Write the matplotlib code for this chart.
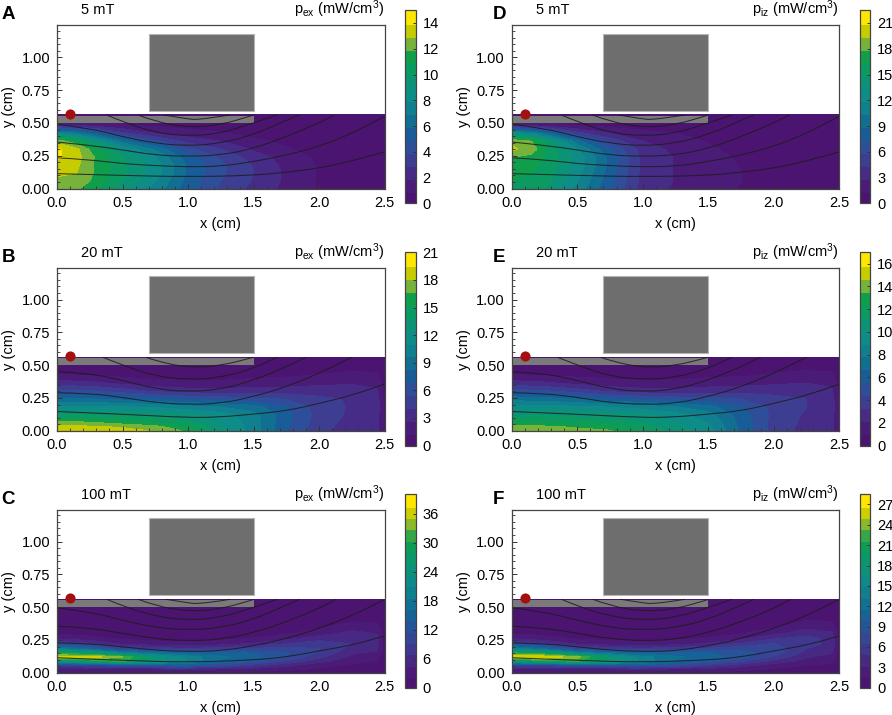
import matplotlib
matplotlib.use("Agg")
import matplotlib.pyplot as plt
from matplotlib.colors import LinearSegmentedColormap
from matplotlib.patches import PathPatch, Rectangle
from matplotlib.path import Path
import numpy as np

plt.rcParams["font.family"] = ["Liberation Sans", "DejaVu Sans"]
plt.rcParams["mathtext.default"] = "regular"
plt.rcParams["axes.edgecolor"] = "#444444"

# ---- density grids, rows run bottom to top ----
x_low = [0, 0.15, 0.3, 0.5, 0.75, 1.0, 1.25, 1.5, 1.75, 2.0, 2.25, 2.5]
y_low = [0, 0.06, 0.12, 0.18, 0.24, 0.30, 0.36, 0.42, 0.48, 0.56]
x_high = [0, 0.25, 0.5, 0.75, 1.0, 1.25, 1.5, 1.75, 2.0, 2.25, 2.44, 2.5]
y_mid = [0, 0.03, 0.06, 0.12, 0.18, 0.24, 0.30, 0.36, 0.42, 0.48, 0.56]
y_high = [0, 0.03, 0.06, 0.09, 0.12, 0.15, 0.18, 0.22, 0.26, 0.30, 0.36, 0.44, 0.56]

pex_5 = [
    [12.0, 12.2, 11.0, 9.5, 7.6, 5.4, 3.8, 2.7, 1.7, 0.9, 0.5, 0.3],
    [12.8, 12.8, 11.6, 10.0, 8.0, 5.6, 4.0, 2.9, 1.8, 0.9, 0.5, 0.3],
    [13.2, 13.0, 11.8, 10.2, 8.5, 5.8, 4.2, 3.0, 1.8, 0.9, 0.5, 0.3],
    [13.6, 13.2, 11.8, 10.2, 8.5, 5.8, 4.2, 2.9, 1.7, 0.9, 0.5, 0.3],
    [14.2, 13.4, 11.8, 10.0, 8.0, 5.4, 3.8, 2.5, 1.5, 0.8, 0.4, 0.3],
    [14.2, 13.2, 11.2, 8.8, 6.8, 4.2, 3.0, 1.8, 1.1, 0.6, 0.4, 0.2],
    [12.6, 11.2, 9.0, 6.4, 4.2, 2.6, 2.0, 1.2, 0.8, 0.4, 0.3, 0.2],
    [8.0, 7.0, 5.2, 3.2, 2.0, 1.4, 1.1, 0.7, 0.5, 0.3, 0.2, 0.2],
    [2.2, 1.9, 1.5, 1.1, 0.8, 0.6, 0.5, 0.4, 0.3, 0.2, 0.2, 0.2],
    [0.4, 0.4, 0.4, 0.3, 0.3, 0.3, 0.3, 0.2, 0.2, 0.2, 0.2, 0.2],
]
piz_5 = [
    [16.0, 16.0, 14.5, 11.5, 7.5, 3.8, 2.8, 2.2, 1.4, 0.8, 0.5, 0.4],
    [16.5, 16.2, 15.0, 12.0, 8.0, 4.0, 2.9, 2.3, 1.5, 0.8, 0.5, 0.4],
    [16.8, 16.5, 15.2, 12.5, 8.2, 4.0, 2.9, 2.3, 1.5, 0.8, 0.5, 0.4],
    [17.2, 17.0, 15.5, 13.0, 8.5, 4.0, 2.9, 2.2, 1.4, 0.8, 0.5, 0.4],
    [18.0, 17.5, 15.8, 13.0, 8.5, 4.0, 2.9, 2.0, 1.3, 0.7, 0.5, 0.4],
    [19.8, 18.8, 15.8, 12.0, 7.5, 3.8, 2.6, 1.7, 1.1, 0.6, 0.4, 0.3],
    [19.2, 18.0, 14.5, 9.5, 5.5, 3.0, 2.2, 1.4, 0.9, 0.5, 0.4, 0.3],
    [13.0, 11.5, 8.5, 5.0, 3.0, 1.9, 1.5, 1.0, 0.7, 0.4, 0.3, 0.3],
    [3.0, 2.6, 2.0, 1.4, 1.0, 0.8, 0.7, 0.5, 0.4, 0.3, 0.3, 0.3],
    [0.5, 0.5, 0.5, 0.5, 0.4, 0.4, 0.4, 0.3, 0.3, 0.3, 0.3, 0.3],
]
pex_20 = [
    [19.5, 19.2, 18.8, 18.0, 16.5, 13.0, 10.5, 7.0, 4.5, 3.5, 3.2, 0.9],
    [18.6, 18.4, 18.0, 17.2, 15.5, 12.8, 10.5, 7.2, 4.7, 3.6, 3.3, 0.9],
    [17.5, 17.0, 16.2, 15.5, 14.4, 12.5, 10.5, 7.3, 4.8, 3.7, 3.4, 0.9],
    [14.0, 14.0, 13.8, 13.5, 13.0, 11.8, 10.3, 7.5, 5.0, 3.9, 3.5, 0.9],
    [11.5, 11.5, 11.3, 11.0, 10.3, 9.8, 9.0, 7.0, 5.0, 4.0, 3.6, 0.9],
    [8.5, 8.5, 8.0, 7.5, 6.8, 6.5, 6.0, 5.5, 4.6, 4.0, 3.5, 0.9],
    [6.0, 5.8, 5.0, 4.0, 3.5, 3.4, 3.5, 3.5, 3.5, 3.5, 3.0, 0.9],
    [3.5, 3.2, 2.5, 1.9, 1.7, 1.7, 2.0, 2.2, 2.5, 2.7, 2.4, 0.8],
    [1.5, 1.4, 1.1, 0.9, 0.9, 0.9, 1.0, 1.2, 1.5, 1.8, 1.7, 0.7],
    [0.8, 0.7, 0.6, 0.6, 0.6, 0.6, 0.6, 0.7, 0.8, 1.0, 0.9, 0.6],
    [0.5, 0.5, 0.5, 0.5, 0.5, 0.5, 0.5, 0.5, 0.5, 0.5, 0.5, 0.5],
]
piz_20 = [
    [14.5, 14.2, 14.0, 13.7, 12.4, 10.8, 9.5, 6.5, 4.0, 3.0, 2.6, 0.8],
    [14.0, 13.8, 13.4, 12.8, 11.8, 10.6, 9.3, 6.5, 4.1, 3.0, 2.7, 0.8],
    [12.8, 12.6, 12.2, 12.0, 11.3, 10.2, 9.0, 6.4, 4.1, 3.1, 2.8, 0.8],
    [11.0, 11.2, 11.0, 10.8, 10.4, 9.5, 8.4, 6.2, 4.2, 3.2, 2.9, 0.8],
    [9.5, 9.5, 9.3, 9.0, 8.5, 8.0, 7.2, 5.6, 4.2, 3.4, 3.0, 0.8],
    [7.5, 7.3, 6.8, 6.0, 5.5, 5.2, 5.0, 4.5, 3.8, 3.4, 2.9, 0.8],
    [5.0, 4.7, 4.0, 3.2, 2.8, 2.7, 2.9, 3.0, 3.0, 3.0, 2.5, 0.8],
    [2.8, 2.5, 2.0, 1.6, 1.4, 1.4, 1.7, 1.9, 2.1, 2.3, 2.0, 0.7],
    [1.2, 1.1, 0.9, 0.8, 0.7, 0.8, 0.9, 1.0, 1.3, 1.5, 1.4, 0.6],
    [0.6, 0.6, 0.5, 0.5, 0.5, 0.5, 0.5, 0.6, 0.7, 0.9, 0.8, 0.5],
    [0.4, 0.4, 0.4, 0.4, 0.4, 0.4, 0.4, 0.4, 0.4, 0.4, 0.4, 0.4],
]
pex_100 = [
    [2.0, 2.0, 2.0, 2.0, 2.0, 1.8, 1.5, 1.2, 1.0, 0.8, 0.7, 0.6],
    [4.0, 4.0, 4.2, 4.5, 5.0, 4.5, 4.0, 3.0, 2.0, 1.5, 1.2, 0.7],
    [9.0, 10.0, 12.0, 13.5, 14.0, 11.0, 8.0, 5.5, 3.0, 2.0, 1.6, 0.8],
    [24.0, 28.0, 31.0, 25.0, 21.0, 16.0, 13.0, 9.0, 5.5, 3.0, 2.2, 0.9],
    [36.0, 36.5, 33.0, 25.0, 20.0, 17.0, 15.0, 11.5, 7.5, 4.0, 3.0, 1.0],
    [30.0, 27.0, 20.0, 17.0, 15.0, 14.5, 14.0, 12.0, 9.0, 5.0, 4.0, 1.1],
    [20.0, 16.0, 10.0, 8.5, 7.5, 8.5, 10.0, 10.5, 9.5, 6.0, 5.0, 1.2],
    [10.0, 7.5, 4.0, 3.2, 3.0, 3.5, 5.0, 7.0, 8.5, 7.0, 5.5, 1.2],
    [4.0, 3.0, 2.0, 1.6, 1.5, 1.8, 2.5, 4.0, 6.0, 7.0, 5.5, 1.2],
    [2.0, 1.6, 1.0, 0.9, 0.9, 1.0, 1.2, 2.0, 3.5, 5.5, 4.5, 1.1],
    [1.0, 0.9, 0.7, 0.6, 0.6, 0.6, 0.7, 1.0, 1.5, 3.0, 2.8, 0.9],
    [0.6, 0.6, 0.5, 0.5, 0.5, 0.5, 0.5, 0.6, 0.7, 1.0, 1.0, 0.7],
    [0.5, 0.5, 0.5, 0.5, 0.5, 0.5, 0.5, 0.5, 0.5, 0.5, 0.5, 0.5],
]
piz_100 = [
    [1.4, 1.4, 1.4, 1.4, 1.4, 1.3, 1.1, 0.9, 0.8, 0.6, 0.5, 0.5],
    [3.0, 3.0, 3.0, 3.2, 3.5, 3.2, 2.8, 2.2, 1.5, 1.2, 1.0, 0.5],
    [7.0, 7.5, 8.5, 9.5, 9.5, 8.0, 6.0, 4.2, 2.5, 1.7, 1.4, 0.6],
    [18.0, 20.5, 22.0, 18.5, 14.5, 11.5, 9.5, 7.0, 4.5, 2.6, 2.0, 0.7],
    [26.5, 26.5, 24.0, 18.0, 14.0, 12.0, 11.0, 9.0, 6.2, 3.5, 2.6, 0.8],
    [22.0, 20.0, 14.5, 12.0, 10.5, 10.5, 10.2, 9.2, 7.5, 4.3, 3.4, 0.9],
    [15.0, 12.0, 7.5, 6.0, 5.5, 6.0, 7.2, 8.0, 7.8, 5.0, 4.2, 0.9],
    [7.5, 5.5, 3.0, 2.4, 2.2, 2.6, 3.6, 5.2, 6.8, 5.6, 4.6, 0.9],
    [3.0, 2.2, 1.5, 1.2, 1.1, 1.3, 1.8, 3.0, 4.8, 5.6, 4.6, 0.9],
    [1.5, 1.2, 0.8, 0.7, 0.7, 0.7, 0.9, 1.5, 2.8, 4.4, 3.6, 0.8],
    [0.7, 0.6, 0.5, 0.5, 0.5, 0.5, 0.5, 0.7, 1.2, 2.4, 2.2, 0.7],
    [0.4, 0.4, 0.4, 0.4, 0.4, 0.4, 0.4, 0.5, 0.5, 0.8, 0.8, 0.5],
    [0.3, 0.3, 0.3, 0.3, 0.3, 0.3, 0.3, 0.3, 0.3, 0.3, 0.3, 0.3],
]

# ---- magnetic field lines, read per field (x, y) ----
lines_5 = [
    ([0, 0.5, 1.0, 1.5, 1.75, 2.0, 2.25, 2.5], [0.114, 0.10, 0.09, 0.10, 0.125, 0.155, 0.21, 0.28]),
    ([0, 0.25, 0.5, 0.75, 1.0, 1.25, 1.5, 1.75, 2.0, 2.25, 2.5], [0.235, 0.22, 0.19, 0.175, 0.165, 0.17, 0.205, 0.255, 0.32, 0.42, 0.55]),
    ([0, 0.25, 0.5, 0.75, 1.0, 1.25, 1.5, 1.75, 2.0, 2.12], [0.355, 0.33, 0.295, 0.255, 0.245, 0.255, 0.305, 0.395, 0.50, 0.56]),
    ([0, 0.25, 0.5, 0.75, 1.0, 1.25, 1.5, 1.75, 1.85], [0.49, 0.46, 0.395, 0.345, 0.325, 0.345, 0.41, 0.52, 0.56]),
    ([0.38, 0.5, 0.75, 1.0, 1.25, 1.5, 1.68], [0.56, 0.51, 0.425, 0.40, 0.42, 0.50, 0.56]),
    ([0.62, 0.75, 1.0, 1.25, 1.5], [0.56, 0.51, 0.465, 0.485, 0.56]),
    ([0.82, 1.0, 1.07, 1.25, 1.32], [0.56, 0.53, 0.525, 0.55, 0.56]),
]
lines_20 = [
    ([0, 0.5, 1.0, 1.25, 1.5, 1.75, 2.0, 2.25, 2.5], [0.147, 0.127, 0.10, 0.105, 0.127, 0.152, 0.208, 0.27, 0.355]),
    ([0, 0.25, 0.5, 0.75, 1.0, 1.25, 1.5, 1.75, 2.0, 2.25], [0.29, 0.285, 0.255, 0.215, 0.20, 0.208, 0.26, 0.335, 0.437, 0.56]),
    ([0, 0.25, 0.5, 0.75, 1.0, 1.25, 1.5, 1.75, 1.9], [0.45, 0.437, 0.385, 0.32, 0.297, 0.315, 0.385, 0.487, 0.56]),
    ([0.35, 0.5, 0.75, 1.0, 1.25, 1.5, 1.68], [0.56, 0.50, 0.415, 0.39, 0.405, 0.475, 0.56]),
    ([0.68, 0.75, 1.0, 1.25, 1.5], [0.56, 0.533, 0.48, 0.495, 0.56]),
]
lines_100 = [
    ([0, 0.5, 1.0, 1.5, 1.75, 2.0, 2.25, 2.5], [0.115, 0.094, 0.08, 0.097, 0.12, 0.167, 0.21, 0.28]),
    ([0, 0.25, 0.5, 0.75, 1.0, 1.25, 1.5, 1.75, 2.0, 2.25, 2.5], [0.228, 0.223, 0.198, 0.172, 0.162, 0.167, 0.205, 0.26, 0.337, 0.434, 0.558]),
    ([0, 0.25, 0.5, 0.75, 1.0, 1.25, 1.5, 1.75, 2.0, 2.13], [0.355, 0.343, 0.30, 0.26, 0.243, 0.254, 0.305, 0.388, 0.49, 0.56]),
    ([0, 0.25, 0.5, 0.75, 1.0, 1.25, 1.5, 1.75, 1.85], [0.495, 0.465, 0.40, 0.345, 0.325, 0.343, 0.406, 0.515, 0.56]),
    ([0.38, 0.5, 0.75, 1.0, 1.25, 1.5, 1.68], [0.56, 0.508, 0.43, 0.40, 0.42, 0.497, 0.56]),
    ([0.62, 0.75, 1.0, 1.25, 1.5], [0.56, 0.51, 0.467, 0.485, 0.558]),
    ([0.83, 1.0, 1.07, 1.25, 1.32], [0.56, 0.533, 0.525, 0.548, 0.56]),
]

# colours, bottom to top
bar_colors = ["#4b1470", "#4a1c78", "#462c86", "#3d3e92", "#2f4e99", "#195d98", "#116f92", "#10808f",
              "#0e8c88", "#0c9377", "#0a9a62", "#0f9f4c", "#77b33b", "#c6cc00", "#ffe600"]
bar_cmap = LinearSegmentedColormap.from_list("bar", bar_colors)

W, H = 892, 715


def px_axes(left, top, right, bottom):
    return fig.add_axes([left / W, 1 - bottom / H, (right - left) / W, (bottom - top) / H])


def smooth_path(lx, ly):
    # quadratic bezier through the midpoints so the field lines do not kink
    pts = list(zip(lx, ly))
    verts = [pts[0]]
    codes = [Path.MOVETO]
    for i in range(1, len(pts) - 1):
        mid = ((pts[i][0] + pts[i + 1][0]) / 2, (pts[i][1] + pts[i + 1][1]) / 2)
        verts += [pts[i], mid]
        codes += [Path.CURVE3, Path.CURVE3]
    verts.append(pts[-1])
    codes.append(Path.LINETO)
    return Path(verts, codes)


def draw_panel(left, top, letter_x, letter, field, name, x, y, values, lines, vmax, bands, ticks):
    right = left + 327.5
    bottom = top + 163.2
    ax = px_axes(left, top, right, bottom)

    levels = np.linspace(0, vmax, bands + 1)
    mesh = ax.contourf(x, y, values, levels=levels, cmap=bar_cmap.resampled(bands))
    mesh.set_edgecolor("face")
    mesh.set_linewidth(0.3)
    for lx, ly in lines:
        ax.add_patch(PathPatch(smooth_path(lx, ly), fc="none", ec="#1c1c1c", lw=0.75, alpha=0.85, zorder=4))

    ax.add_patch(Rectangle((0, 0.50), 1.5, 0.055, fc="#7a7a7a", ec="none", zorder=3))
    ax.add_patch(Rectangle((0.7, 0.59), 0.8, 0.59, fc="#6e6e6e", ec="#b5b5b5", lw=0.8, zorder=3))
    ax.plot([0.1], [0.57], "o", ms=7.3, color="#a50f0f", mec="none", zorder=5, clip_on=False)

    ax.set_xlim(0, 2.5)
    ax.set_ylim(0, 1.243)
    ax.set_xticks([0, 0.5, 1.0, 1.5, 2.0, 2.5])
    ax.set_xticklabels(["0.0", "0.5", "1.0", "1.5", "2.0", "2.5"])
    ax.set_xticks(np.arange(0, 2.51, 0.1), minor=True)
    ax.set_yticks([0, 0.25, 0.5, 0.75, 1.0])
    ax.set_yticklabels(["0.00", "0.25", "0.50", "0.75", "1.00"])
    ax.set_yticks(np.arange(0, 1.21, 0.05), minor=True)
    ax.tick_params(which="major", direction="in", length=3.6, width=0.7, color="#333333", labelsize=10.5, pad=5)
    ax.tick_params(which="minor", direction="in", length=2, width=0.6, color="#333333")
    for spine in ax.spines.values():
        spine.set_linewidth(0.9)
        spine.set_zorder(6)

    fig.text((left + right) / 2 / W, 1 - (top + 202.5) / H, "x (cm)", ha="center", va="baseline", fontsize=10.5)
    fig.text((left - 48) / W, 1 - (top + 81.5) / H, "y (cm)", ha="center", va="center", rotation=90, fontsize=10.5)

    fig.text((left + 24) / W, 1 - (top - 11) / H, field, ha="left", va="baseline", fontsize=10.5)
    fig.text(right / W, 1 - (top - 11) / H, name + " (mW/cm$^{3}$)", ha="right", va="baseline", fontsize=10.5)
    fig.text(letter_x / W, 1 - (top - 6) / H, letter, ha="left", va="baseline", fontsize=13.5, fontweight="bold")

    cax = px_axes(right + 20.3, top - 15.3, right + 31, top + 178)
    cbar = fig.colorbar(mesh, cax=cax, ticks=ticks)
    cbar.solids.set_edgecolor("face")
    cbar.ax.tick_params(direction="in", length=2, width=0.7, color="#333333", labelsize=10.5, pad=5)
    cbar.outline.set_edgecolor("#444444")
    cbar.outline.set_linewidth(0.9)


fig = plt.figure(figsize=(W / 100, H / 100), dpi=100)

draw_panel(57, 25.4, 1.5, "A", "5 mT", "p$_{ex}$", x_low, y_low, pex_5, lines_5, 15, 15, list(range(0, 15, 2)))
draw_panel(57, 267.6, 1.5, "B", "20 mT", "p$_{ex}$", x_high, y_mid, pex_20, lines_20, 21, 15, list(range(0, 22, 3)))
draw_panel(57, 509.6, 1.5, "C", "100 mT", "p$_{ex}$", x_high, y_high, pex_100, lines_100, 40, 17, list(range(0, 37, 6)))
draw_panel(511.7, 25.4, 492.5, "D", "5 mT", "p$_{iz}$", x_low, y_low, piz_5, lines_5, 22.5, 15, list(range(0, 22, 3)))
draw_panel(511.7, 267.6, 492.5, "E", "20 mT", "p$_{iz}$", x_high, y_mid, piz_20, lines_20, 17, 15, list(range(0, 17, 2)))
draw_panel(511.7, 509.6, 492.5, "F", "100 mT", "p$_{iz}$", x_high, y_high, piz_100, lines_100, 28.5, 17, list(range(0, 28, 3)))

fig.savefig("out.png", dpi=100)
